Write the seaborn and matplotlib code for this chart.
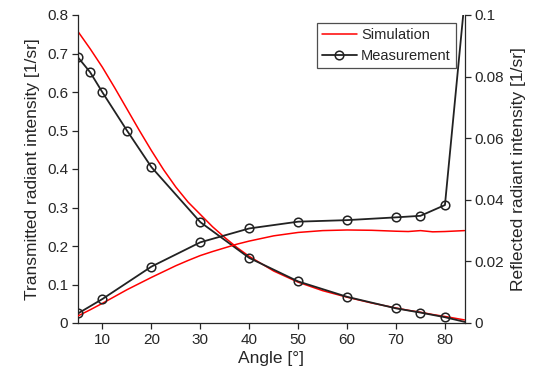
import matplotlib
matplotlib.use("Agg")
import matplotlib.pyplot as plt
import matplotlib.ticker as mticker
from matplotlib.lines import Line2D
import numpy as np
import pandas as pd
import seaborn as sns

# ---- data ----
sim_angle = [5, 7.5, 10, 12.5, 15, 17.5, 20, 22.5, 25, 27.5, 30, 32.5, 35, 37.5, 40, 45, 50, 55,
             60, 65, 70, 72.5, 75, 77.5, 80, 84]
sim_trans = [0.757, 0.712, 0.664, 0.611, 0.556, 0.501, 0.448, 0.398, 0.353, 0.314, 0.282, 0.25,
             0.222, 0.196, 0.173, 0.135, 0.106, 0.084, 0.067, 0.052, 0.039, 0.033, 0.028, 0.022,
             0.017, 0.008]
sim_refl = [0.0023, 0.0043, 0.0064, 0.0086, 0.0108, 0.0128, 0.0148, 0.0167, 0.0186, 0.0203, 0.0219,
            0.0232, 0.0244, 0.0256, 0.0266, 0.0283, 0.0294, 0.0300, 0.0302, 0.0301, 0.0298, 0.0297,
            0.0300, 0.0296, 0.0297, 0.0300]

meas_angle = [5, 7.5, 10, 15, 20, 30, 40, 50, 60, 70, 75, 80, 85]
meas_trans = [0.69, 0.651, 0.599, 0.50, 0.405, 0.262, 0.169, 0.108, 0.068, 0.038, 0.027, 0.015, 0.0]
meas_refl_angle = [5, 10, 20, 30, 40, 50, 60, 70, 75, 80, 85]
meas_refl = [0.0031, 0.0078, 0.0183, 0.0262, 0.0307, 0.0329, 0.0334, 0.0343, 0.0348, 0.0383, 0.121]

x_ticks = [10, 20, 30, 40, 50, 60, 70, 80]
left_ticks = [0, 0.1, 0.2, 0.3, 0.4, 0.5, 0.6, 0.7, 0.8]
right_ticks = [0, 0.02, 0.04, 0.06, 0.08, 0.1]

sns.set_style("ticks")
plt.rcParams['font.family'] = ['Liberation Sans', 'DejaVu Sans']
axc = '#262626'
plt.rcParams.update({
    'axes.edgecolor': axc, 'xtick.color': axc, 'ytick.color': axc,
    'axes.labelcolor': axc, 'text.color': axc,
    'xtick.direction': 'out', 'ytick.direction': 'out',
    'axes.linewidth': 0.9,
})

fig = plt.figure(figsize=(5.49, 3.81), dpi=100)
ax = fig.add_axes([78/549, 1-323/381, (465-78)/549, (323-15)/381])
ax2 = ax.twinx()

red = '#ff0000'
blk = '#222222'
mk = dict(marker='o', markersize=6.2, markerfacecolor='none', markeredgecolor=blk, markeredgewidth=1.1)

df_sim = pd.DataFrame({'angle': sim_angle, 'trans': sim_trans, 'refl': sim_refl})
df_mt = pd.DataFrame({'angle': meas_angle, 'val': meas_trans})
df_mr = pd.DataFrame({'angle': meas_refl_angle, 'val': meas_refl})

sns.lineplot(data=df_sim, x='angle', y='trans', ax=ax, color=red, linewidth=1.1, sort=False)
sns.lineplot(data=df_mt, x='angle', y='val', ax=ax, color=blk, linewidth=1.3, sort=False,
             markevery=list(range(len(meas_angle) - 1)), **mk)
sns.lineplot(data=df_sim, x='angle', y='refl', ax=ax2, color=red, linewidth=1.1, sort=False)
sns.lineplot(data=df_mr, x='angle', y='val', ax=ax2, color=blk, linewidth=1.3, sort=False,
             markevery=list(range(len(meas_refl_angle) - 1)), **mk)

ax.set_xlim(5, 84.1)
ax.set_ylim(0, 0.8)
ax2.set_ylim(0, 0.1)
ax.set_xticks(x_ticks)
ax.set_yticks(left_ticks)
ax2.set_yticks(right_ticks)
fmt = mticker.FuncFormatter(lambda v, p: '%g' % round(v, 4))
ax.yaxis.set_major_formatter(fmt)
ax2.yaxis.set_major_formatter(fmt)

for a in (ax, ax2):
    a.spines['top'].set_visible(False)
    a.tick_params(labelsize=11, length=4, width=0.9, pad=3)
ax.spines['right'].set_visible(False)
ax2.spines['left'].set_visible(False)
ax2.spines['bottom'].set_visible(False)
ax2.spines['right'].set_visible(True)

ax.set_xlabel('Angle [°]', fontsize=12.5, labelpad=3)
ax.set_ylabel('Transmitted radiant intensity [1/sr]', fontsize=12.5, labelpad=5)
ax2.set_ylabel('Reflected radiant intensity [1/sr]', fontsize=12.5, labelpad=5)

handles = [Line2D([], [], color=red, linewidth=1.1),
           Line2D([], [], color=blk, linewidth=1.3, **mk)]
leg = ax2.legend(handles, ['Simulation', 'Measurement'], loc='upper right',
                 bbox_to_anchor=(456/549, 1-23/381), bbox_transform=fig.transFigure,
                 fontsize=10.5, frameon=True, fancybox=False, handlelength=2.4,
                 borderpad=0.35, labelspacing=0.45, handletextpad=0.3, borderaxespad=0)
leg.get_frame().set_edgecolor(blk)
leg.get_frame().set_linewidth(0.9)

fig.savefig('out.png', dpi=100)
